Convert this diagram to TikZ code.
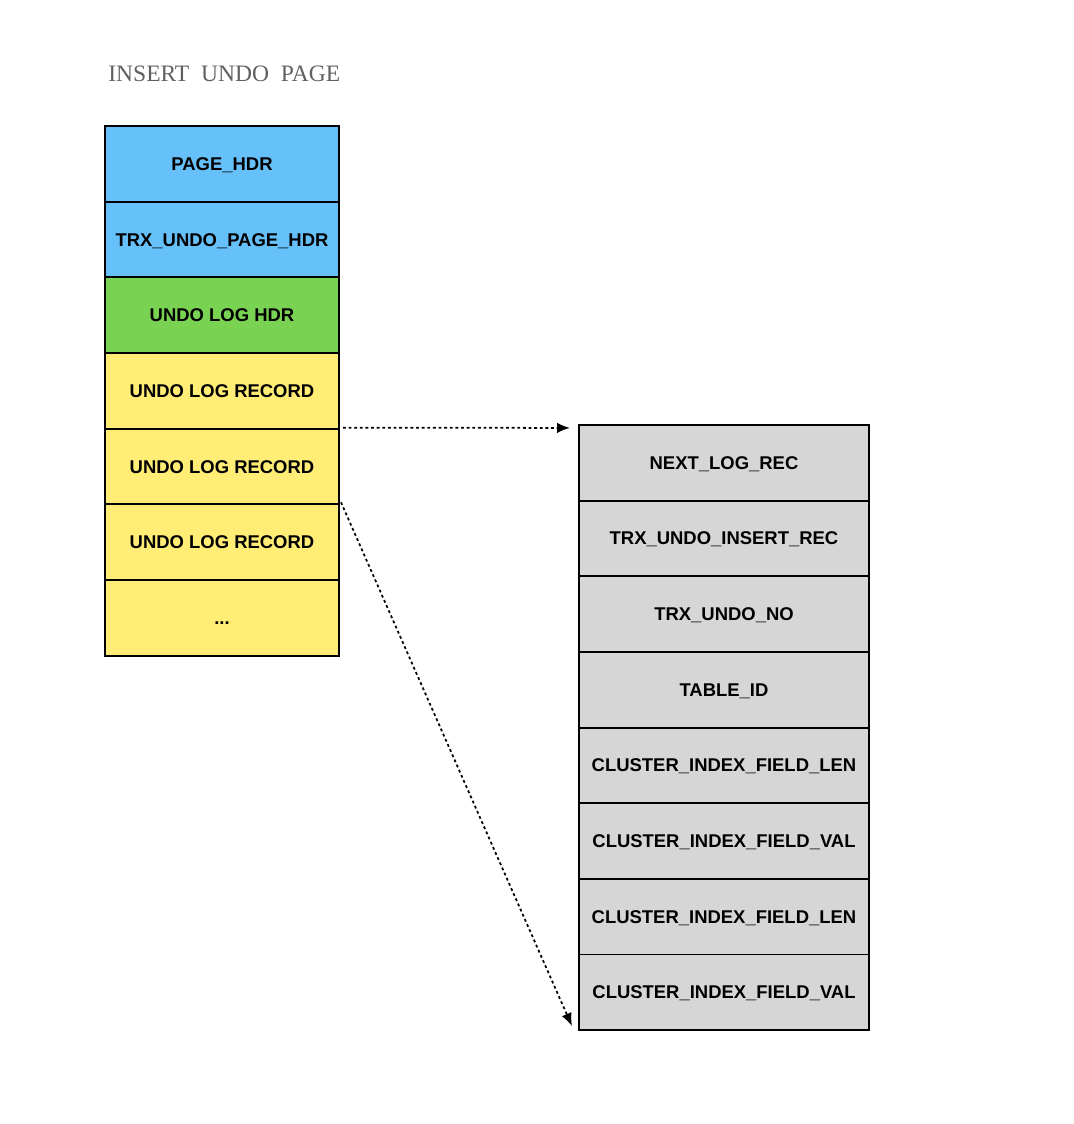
\documentclass[tikz,border=0pt]{standalone}
\usepackage{fontspec}
\usepackage{xcolor}
\usepackage{tikz}
\usetikzlibrary{positioning, arrows.meta}
\setmainfont{Liberation Serif}
\newfontfamily\celfont{Liberation Sans}

\definecolor{azulpag}{RGB}{102,192,250}
\definecolor{verdelog}{RGB}{122,210,82}
\definecolor{amarelorec}{RGB}{255,237,117}
\definecolor{cinzacampo}{RGB}{214,214,214}
\definecolor{cinzatitulo}{RGB}{96,96,96}

\tikzset{
  celula/.style={draw, line width=1.1pt, outer sep=0pt, inner sep=0pt,
    minimum width=4.68cm, minimum height=1.513cm,
    text height=7.5pt, text depth=0pt,
    font=\celfont\bfseries\fontsize{10.5}{12}\selectfont},
  campo/.style={celula, fill=cinzacampo, minimum width=5.8cm},
  seta/.style={-{Latex[length=2.6mm,width=2.1mm]}, line width=1pt,
    dash pattern=on 1.6pt off 1.6pt}
}

\begin{document}
\begin{tikzpicture}
\useasboundingbox (0,0) rectangle (21.48,-22.48);

% Titulo da pagina:
\node[anchor=west, inner sep=0pt, text=cinzatitulo, font=\fontsize{13.4}{15}\selectfont] (titulo) at (2.16,-1.47) {INSERT\ \ UNDO\ \ PAGE};

% Coluna da esquerda (a pagina de undo):
\node[celula, fill=azulpag] (r1) at (4.44,-3.277) {PAGE\_HDR};
\node[celula, fill=azulpag, below=0pt of r1] (r2) {TRX\_UNDO\_PAGE\_HDR};
\node[celula, fill=verdelog, below=0pt of r2] (r3) {UNDO LOG HDR};
\node[celula, fill=amarelorec, below=0pt of r3] (r4) {UNDO LOG RECORD};
\node[celula, fill=amarelorec, below=0pt of r4] (r5) {UNDO LOG RECORD};
\node[celula, fill=amarelorec, below=0pt of r5] (r6) {UNDO LOG RECORD};
\node[celula, fill=amarelorec, below=0pt of r6] (r7) {...};

% Coluna da direita (os campos de um registro):
\node[campo] (c1) at (14.48,-9.255) {NEXT\_LOG\_REC};
\node[campo, below=0pt of c1] (c2) {TRX\_UNDO\_INSERT\_REC};
\node[campo, below=0pt of c2] (c3) {TRX\_UNDO\_NO};
\node[campo, below=0pt of c3] (c4) {TABLE\_ID};
\node[campo, below=0pt of c4] (c5) {CLUSTER\_INDEX\_FIELD\_LEN};
\node[campo, below=0pt of c5] (c6) {CLUSTER\_INDEX\_FIELD\_VAL};
\node[campo, below=0pt of c6] (c7) {CLUSTER\_INDEX\_FIELD\_LEN};
\node[campo, below=0pt of c7] (c8) {CLUSTER\_INDEX\_FIELD\_VAL};

% Setas pontilhadas do registro para os campos:
\draw[seta] ([xshift=0.08cm,yshift=0.02cm]r4.south east) -- ([xshift=-0.18cm,yshift=-0.06cm]c1.north west);
\draw[seta] ([xshift=0.04cm,yshift=0.04cm]r5.south east) -- ([xshift=-0.14cm,yshift=0.08cm]c8.south west);
\end{tikzpicture}
\end{document}
